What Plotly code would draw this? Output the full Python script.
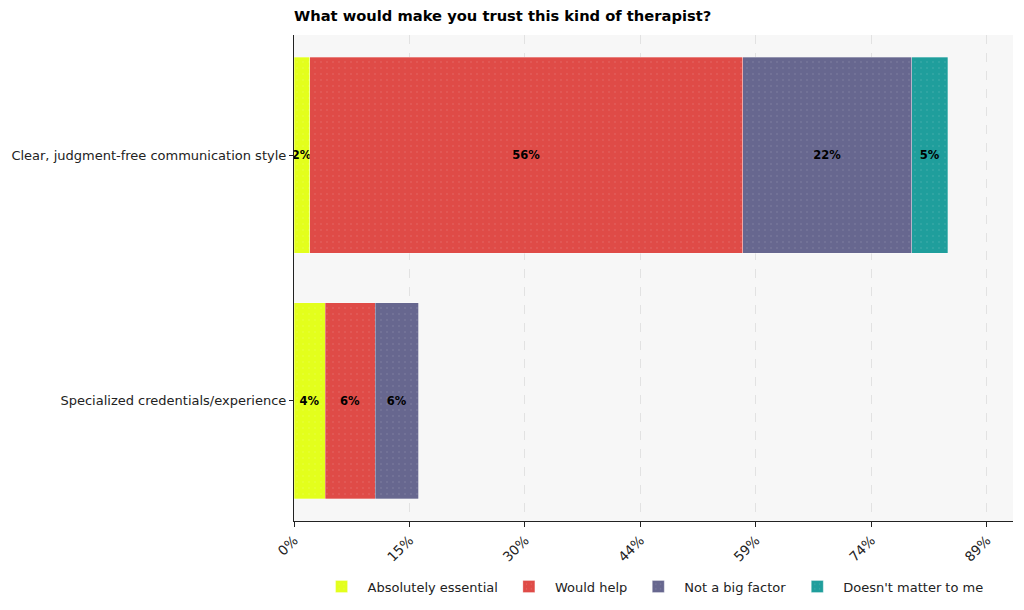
import plotly.graph_objects as go

categories = ["Clear, judgment-free communication style", "Specialized credentials/experience"]
series_names = ["Absolutely essential", "Would help", "Not a big factor", "Doesn't matter to me"]
series_values = {
    "Absolutely essential": [2.0, 4.0],
    "Would help": [55.6, 6.4],
    "Not a big factor": [21.7, 5.6],
    "Doesn't matter to me": [4.6, 0.0],
}
series_colors = ["#e3ff1c", "#df4b47", "#67678f", "#1f9e9c"]
tick_labels = ["0%", "15%", "30%", "44%", "59%", "74%", "89%"]

totals = [sum(series_values[s][i] for s in series_names) for i in range(len(categories))]
max_total = max(totals)
tick_step = max_total * 1.06 / 6
tick_vals = [tick_step * i for i in range(len(tick_labels))]

fig = go.Figure()
for name, color in zip(series_names, series_colors):
    vals = series_values[name]
    fig.add_trace(go.Bar(
        y=categories, x=vals, name=name, orientation="h",
        marker=dict(color=color, line=dict(color="rgba(255,255,255,0.5)", width=0.6),
                    pattern=dict(shape=".", fgcolor="white", fgopacity=0.18, size=6, solidity=0.05)),
        width=0.8,
        text=[f"{v:.0f}%" if v > 0 else "" for v in vals],
        textposition="inside", insidetextanchor="middle", textangle=0,
        constraintext="none",
        textfont=dict(family="DejaVu Sans", size=11.5, color="black", weight="bold"),
        hoverinfo="x+name",
    ))

fig.update_layout(
    barmode="stack",
    width=1024, height=610,
    margin=dict(l=294, r=11, t=35, b=89, autoexpand=False),
    paper_bgcolor="white", plot_bgcolor="#f7f7f7",
    font=dict(family="DejaVu Sans", size=13, color="#222222"),
    title=dict(text="<b>What would make you trust this kind of therapist?</b>",
               x=294 / 1024, xanchor="left", y=0.974, yanchor="middle",
               font=dict(size=14.7, color="black")),
    legend=dict(orientation="h", x=0.498, xanchor="center", y=-0.104, yanchor="top",
                font=dict(size=13, color="#222222"), traceorder="normal",
                itemwidth=42, tracegroupgap=0),
    bargap=0.2,
)
fig.update_xaxes(range=[0, max_total * 1.1], tickvals=tick_vals, ticktext=tick_labels,
                 tickangle=-45, tickfont=dict(size=13.5, color="#222222"),
                 showline=True, linecolor="#222222", linewidth=1.2,
                 ticks="outside", ticklen=5, tickcolor="#222222",
                 showgrid=True, gridcolor="#e2e2e2", griddash="dash", gridwidth=0.8,
                 zeroline=False, fixedrange=True, automargin=False)
fig.update_yaxes(categoryorder="array", categoryarray=categories[::-1],
                 range=[-0.49, 1.49],
                 showline=True, linecolor="#222222", linewidth=1.2,
                 ticks="outside", ticklen=4, tickcolor="#222222",
                 tickfont=dict(size=13, color="#222222"),
                 showgrid=False, zeroline=False, fixedrange=True, automargin=False)

fig.write_html("out.html")
